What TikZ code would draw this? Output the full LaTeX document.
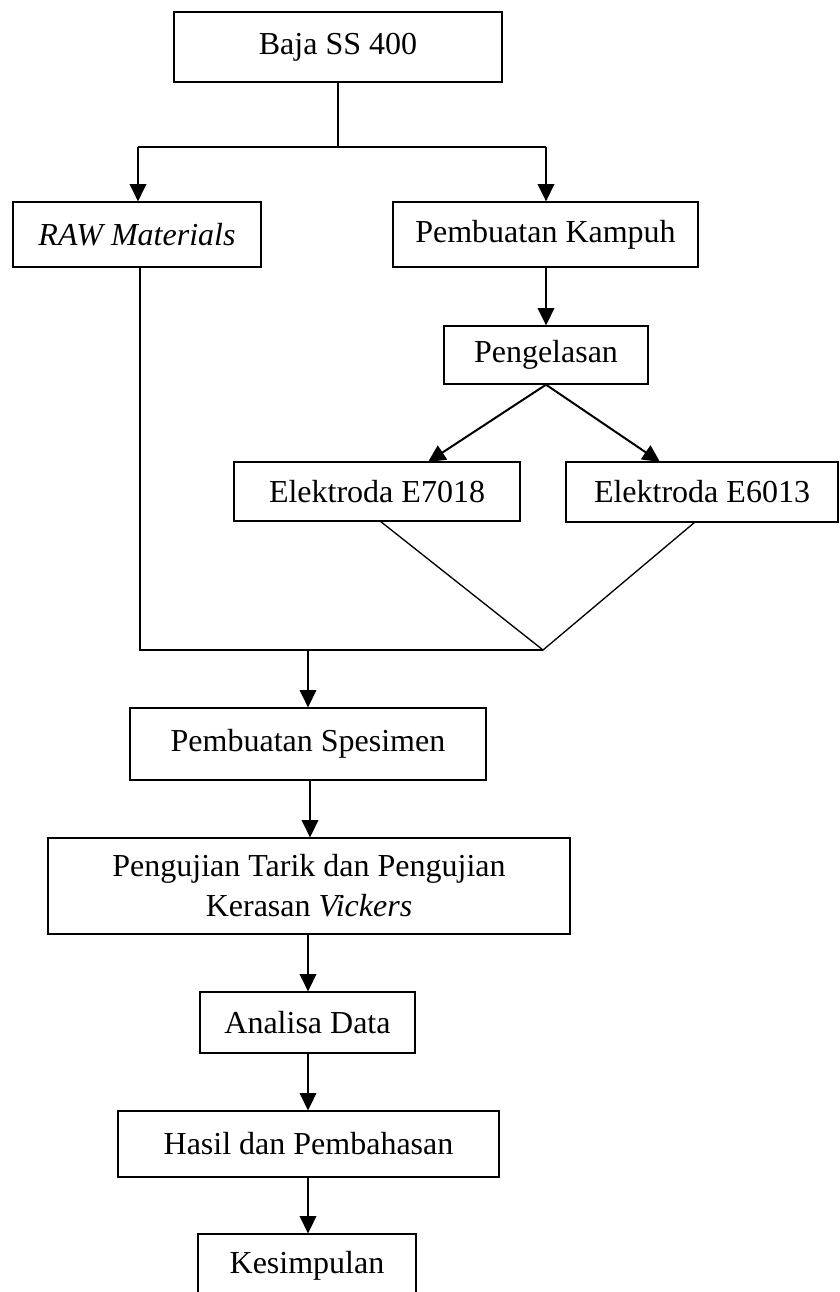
\documentclass[tikz,border=0pt]{standalone}
\usepackage{fontspec}
\setmainfont{Liberation Serif}
\usetikzlibrary{arrows.meta}
\begin{document}
\begin{tikzpicture}[x=0.75pt,y=-0.75pt,
  box/.style={draw,line width=1pt,inner sep=0pt,align=center,
    font=\fontsize{24}{30}\selectfont},
  pxw/.style={minimum width=#1*0.75pt},
  pxh/.style={minimum height=#1*0.75pt},
  plain/.style={line width=1pt},
  arr/.style={line width=1.5pt,-{Triangle[length=13pt,width=12.5pt]}}]
\useasboundingbox (0,0) rectangle (839,1292);
% boxes
\node[box,pxw=328,pxh=70] (baja) at (338,47) {Baja SS 400};
\node[box,pxw=248,pxh=65] (raw) at (137,234.5) {\textit{RAW Materials}};
\node[box,pxw=305,pxh=65] (kampuh) at (545.5,234.5) {Pembuatan Kampuh};
\node[box,pxw=204,pxh=58] (las) at (546,355) {Pengelasan};
\node[box,pxw=286,pxh=59] (ea) at (377,491.5) {Elektroda E7018};
\node[box,pxw=272,pxh=60] (eb) at (702,492) {Elektroda E6013};
\node[box,pxw=356,pxh=72] (spes) at (308,744) {Pembuatan Spesimen};
\node[box,pxw=522,pxh=96] (uji) at (309,886) {Pengujian Tarik dan Pengujian\\Kerasan \textit{Vickers}};
\node[box,pxw=215,pxh=61] (analisa) at (307.5,1022.5) {Analisa Data};
\node[box,pxw=381,pxh=66] (hasil) at (308.5,1144) {Hasil dan Pembahasan};
\node[box,pxw=218,pxh=64] (kes) at (307,1266) {Kesimpulan};
% split below Baja
\coordinate (sp) at (338,147);
\coordinate (sl) at (138,147);
\coordinate (sr) at (546,147);
\draw[plain] (baja.south) -- (sp);
\draw[plain] (sl) -- (sr);
\draw[arr] (sl) -- (sl |- raw.north);
\draw[arr] (sr) -- (sr |- kampuh.north);
% Kampuh -> Pengelasan
\draw[arr] (kampuh.south -| las.north) -- (las.north);
% Pengelasan -> electrodes
\coordinate (ta) at (428,462);
\coordinate (tb) at (660,462);
\draw[arr] (las.south) -- (ta);
\draw[arr] (las.south) -- (tb);
% merge
\coordinate (va) at (380,521);
\coordinate (vb) at (695,522);
\coordinate (vm) at (543,650);
\coordinate (rb) at (140,650);
\draw[plain] (va) -- (vm) -- (vb);
\draw[plain] (raw.south -| rb) -- (rb) -- (vm);
\coordinate (mj) at (308,650);
\draw[arr] (mj) -- (spes.north);
% chain
\draw[arr] (spes.south -| 310,0) -- (uji.north -| 310,0);
\draw[arr] (uji.south -| 308,0) -- (analisa.north -| 308,0);
\draw[arr] (analisa.south -| 308,0) -- (hasil.north -| 308,0);
\draw[arr] (hasil.south -| 308,0) -- (kes.north -| 308,0);
\end{tikzpicture}
\end{document}
